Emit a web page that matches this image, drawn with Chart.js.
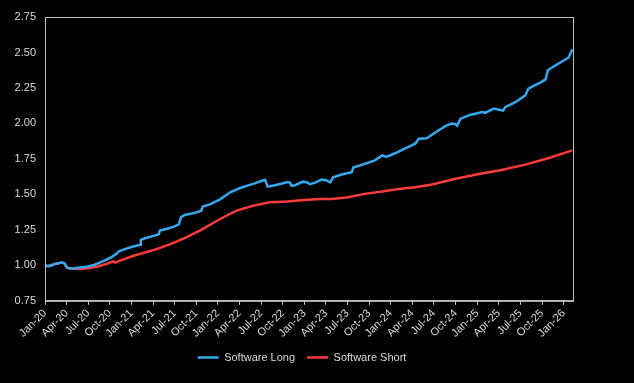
<!DOCTYPE html>
<html>
<head>
<meta charset="utf-8">
<script src="https://cdn.jsdelivr.net/npm/chart.js@4.4.0/dist/chart.umd.min.js"></script>
<style>
  html, body { margin: 0; padding: 0; background: #000; }
  #wrap { width: 634px; height: 383px; }
</style>
</head>
<body>
<div id="wrap"><canvas id="myChart" width="634" height="383"></canvas></div>
<script>
// x positions are months since Jan-20
const tickLabels = ['Jan-20', 'Apr-20', 'Jul-20', 'Oct-20', 'Jan-21', 'Apr-21', 'Jul-21', 'Oct-21',
  'Jan-22', 'Apr-22', 'Jul-22', 'Oct-22', 'Jan-23', 'Apr-23', 'Jul-23', 'Oct-23',
  'Jan-24', 'Apr-24', 'Jul-24', 'Oct-24', 'Jan-25', 'Apr-25', 'Jul-25', 'Oct-25', 'Jan-26'];

const longMonths = [0, 0.65, 1.35, 2.3, 2.7, 3.05, 3.4, 4.1, 4.8, 5.8, 6.8, 7.6, 8.3, 9.3, 10.0, 10.25,
  11.1, 12.0, 13.2, 13.3, 14.1, 15.2, 15.8, 15.95, 17.1, 18.0, 18.6, 18.9, 19.4, 20.8, 21.7, 21.9,
  22.9, 24.3, 25.7, 27.1, 28.0, 29.2, 30.3, 30.55, 30.9, 31.9, 33.6, 34.0, 34.2, 34.7, 35.8, 36.4,
  36.8, 37.6, 38.4, 39.0, 39.6, 40.0, 41.2, 42.6, 42.8, 44.4, 45.8, 46.8, 47.4, 48.6, 50.0, 51.4,
  51.9, 53.0, 54.6, 55.7, 56.5, 57.0, 57.2, 57.7, 59.0, 60.7, 61.1, 62.3, 63.2, 63.6, 63.9, 65.3,
  66.7, 67.1, 68.8, 69.5, 69.8, 70.9, 71.9, 72.7, 73.2];
const longValues = [1.00, 0.995, 1.01, 1.02, 1.015, 0.985, 0.978, 0.98, 0.985, 0.99, 1.003, 1.02, 1.035, 1.06, 1.085, 1.10,
  1.115, 1.13, 1.145, 1.18, 1.195, 1.21, 1.22, 1.245, 1.26, 1.275, 1.29, 1.34, 1.355, 1.37, 1.385, 1.415,
  1.43, 1.465, 1.515, 1.545, 1.56, 1.58, 1.60, 1.603, 1.555, 1.565, 1.586, 1.585, 1.56, 1.565, 1.59, 1.585,
  1.572, 1.585, 1.605, 1.60, 1.585, 1.62, 1.64, 1.657, 1.69, 1.715, 1.74, 1.775, 1.765, 1.79, 1.825, 1.857,
  1.893, 1.895, 1.95, 1.985, 2.00, 1.995, 1.985, 2.034, 2.06, 2.08, 2.075, 2.105, 2.095, 2.09, 2.115, 2.15,
  2.199, 2.246, 2.29, 2.31, 2.375, 2.41, 2.44, 2.465, 2.52];

const shortMonths = [0, 0.65, 1.35, 2.3, 2.7, 3.05, 3.5, 4.9, 6.0, 7.2, 8.5, 9.5, 9.7, 10.5, 12.3, 15.1,
  17.4, 19.3, 21.5, 24.3, 26.6, 28.9, 31.2, 33.6, 35.9, 38.2, 39.8, 42.1, 44.4, 46.8, 49.1, 51.4,
  53.7, 57.0, 60.4, 63.2, 66.7, 70.2, 73.2];
const shortValues = [0.99, 1.00, 1.01, 1.02, 1.015, 0.985, 0.978, 0.974, 0.98, 0.99, 1.01, 1.028, 1.02, 1.035, 1.068, 1.108,
  1.15, 1.19, 1.245, 1.327, 1.386, 1.42, 1.445, 1.45, 1.46, 1.468, 1.468, 1.48, 1.504, 1.52, 1.539, 1.55,
  1.57, 1.61, 1.645, 1.67, 1.71, 1.76, 1.81];

const textColor = '#d9d9d9';
const axisColor = '#bfbfbf';

const frame = {
  id: 'frame',
  afterLayout(chart) {
    // legend sits a little left of the plot centre and slightly higher
    chart.legend.left -= 7;
    chart.legend.right -= 7;
    chart.legend.top -= 2;
    chart.legend.bottom -= 2;
  },
  beforeDraw(chart) {
    const c = chart.ctx;
    c.save();
    c.fillStyle = '#000';
    c.fillRect(0, 0, chart.width, chart.height);
    c.restore();
  },
  afterDraw(chart) {
    const a = chart.chartArea;
    const c = chart.ctx;
    c.save();
    c.strokeStyle = axisColor;
    c.lineWidth = 1;
    c.strokeRect(a.left + 0.5, a.top + 0.5, a.right - a.left, a.bottom - a.top);
    c.restore();
  }
};

function toPoints(xs, ys) {
  return xs.map((x, i) => ({x: x, y: ys[i]}));
}

new Chart(document.getElementById('myChart').getContext('2d'), {
  type: 'line',
  data: {
    datasets: [{
      label: 'Software Long',
      data: toPoints(longMonths, longValues),
      borderColor: '#35a9f0',
      backgroundColor: '#35a9f0',
      borderWidth: 2.5,
      pointRadius: 0,
      tension: 0
    }, {
      label: 'Software Short',
      data: toPoints(shortMonths, shortValues),
      borderColor: '#ff3b3b',
      backgroundColor: '#ff3b3b',
      borderWidth: 2.5,
      pointRadius: 0,
      tension: 0
    }]
  },
  options: {
    responsive: false,
    animation: false,
    layout: {padding: {left: 0, right: 61, top: 17, bottom: 8}},
    plugins: {
      tooltip: {enabled: false},
      legend: {
        position: 'bottom',
        fullSize: false,
        labels: {
          color: textColor,
          font: {family: 'Liberation Sans, Arial', size: 11},
          usePointStyle: true,
          pointStyle: 'line',
          pointStyleWidth: 21,
          boxHeight: 3,
          padding: 12
        }
      }
    },
    scales: {
      x: {
        type: 'linear',
        min: 0,
        max: 73.3,
        afterBuildTicks: (scale) => {
          scale.ticks = tickLabels.map((t, i) => ({value: i * 3}));
        },
        ticks: {
          color: textColor,
          font: {family: 'Liberation Sans, Arial', size: 11},
          autoSkip: false,
          minRotation: 45,
          maxRotation: 45,
          padding: 2,
          callback: (v, i) => tickLabels[i]
        },
        grid: {drawOnChartArea: false, color: axisColor, tickLength: 4},
        border: {color: axisColor}
      },
      y: {
        min: 0.75,
        max: 2.75,
        afterFit: (scale) => { scale.width = 45; },
        ticks: {
          stepSize: 0.25,
          color: textColor,
          font: {family: 'Liberation Sans, Arial', size: 11},
          padding: 9,
          callback: (v) => v.toFixed(2)
        },
        grid: {display: false, drawTicks: false},
        border: {color: axisColor}
      }
    }
  },
  plugins: [frame]
});
</script>
</body>
</html>
